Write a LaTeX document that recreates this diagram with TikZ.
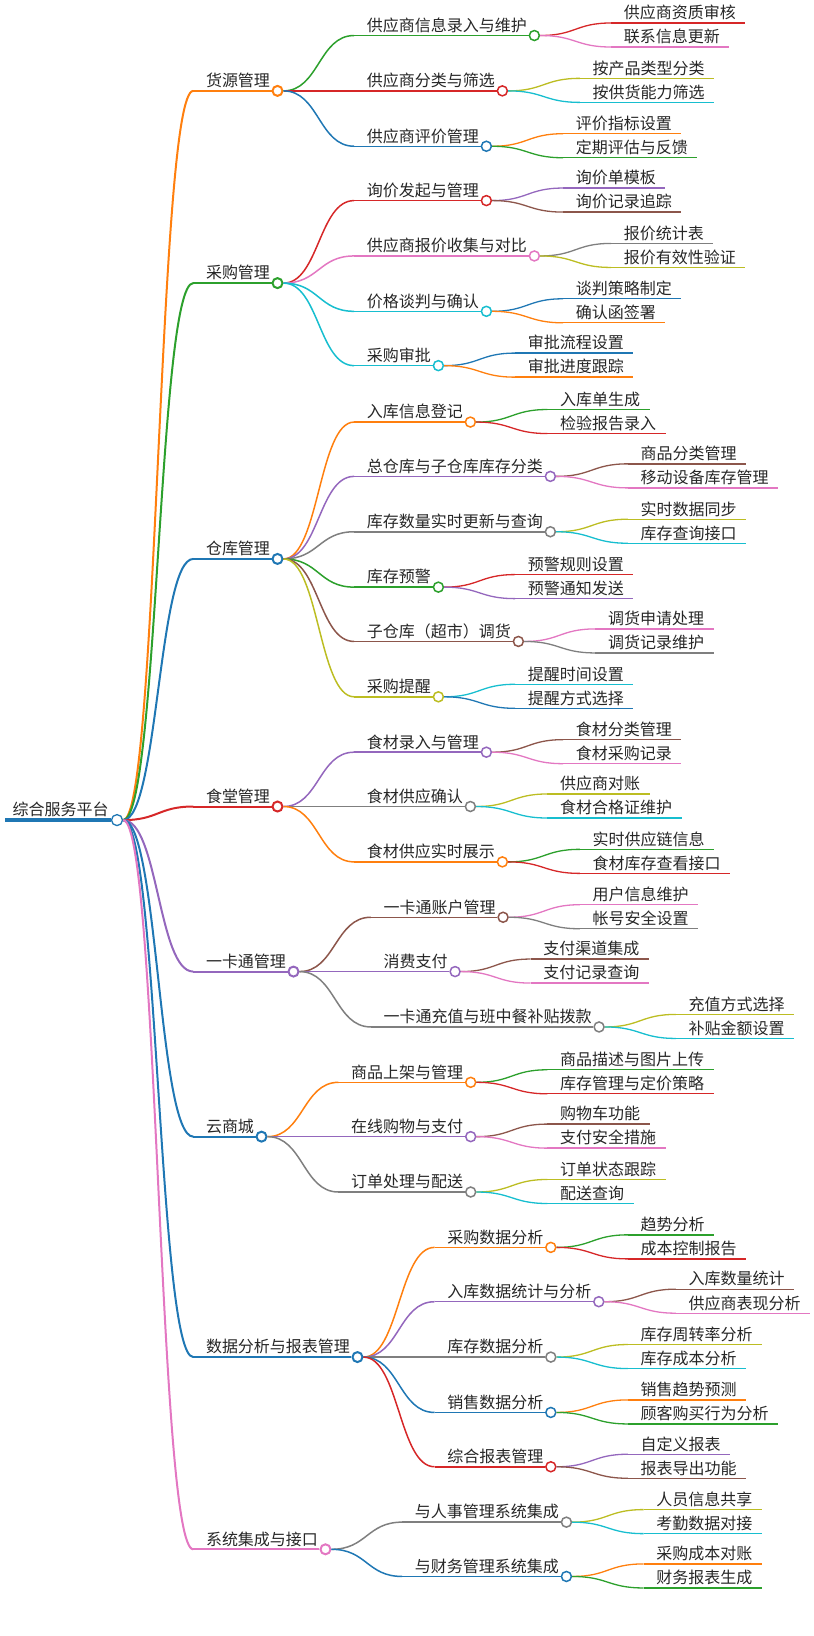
\documentclass[tikz,border=0pt]{standalone}
\usepackage{fontspec}
\setmainfont{Noto Sans CJK SC}
\usetikzlibrary{calc}
\definecolor{cb}{HTML}{1F77B4}\definecolor{co}{HTML}{FF7F0E}\definecolor{cg}{HTML}{2CA02C}
\definecolor{cr}{HTML}{D62728}\definecolor{cp}{HTML}{9467BD}\definecolor{cn}{HTML}{8C564B}
\definecolor{ck}{HTML}{E377C2}\definecolor{cy}{HTML}{7F7F7F}\definecolor{cl}{HTML}{BCBD22}
\definecolor{cc}{HTML}{17BECF}
\tikzset{txt/.style={inner sep=0pt,font=\fontsize{16}{18}\selectfont,text=black!85},
  dotc/.style={circle,fill=white,inner sep=0pt,minimum size=10pt,line width=1.3pt},
  la/.style={line width=2pt},lb/.style={line width=1.5pt},lc/.style={line width=1.3pt}}
\newcommand\MN[7]{%
\node[txt,anchor=base west] (#1t) at (#3,#4-4) {#5};
\coordinate (#1s) at (#3-12,#4);
\coordinate (#1m) at ($(#2.east)!0.5!(#1s)$);
\draw[#6] (#2.east) .. controls (#2.east -| #1m) and (#1s -| #1m) .. (#1s);
\path (#1t.east) ++(7,0) coordinate (#1x);
\ifnum#7=1
\node[dotc,draw=#6] (#1) at (#1x |- #1s) {};
\draw[#6] (#1s) -- (#1.west);
\else
\path (#1t.east) ++(9,0) coordinate (#1y);
\coordinate (#1) at (#1y |- #1s);
\draw[#6] (#1s) -- (#1);
\fi}
\begin{document}
\begin{tikzpicture}[x=1.045pt,y=-1.045pt]
\useasboundingbox (0,0) rectangle (779,1566);
\node[txt,anchor=base west] (roott) at (12,781) {综合服务平台};
\node[dotc,draw=cb,minimum size=11pt] (root) at (112,785) {};
\draw[cb,line width=3.5pt] (5,785) -- (root.west);
% level 1
\MN{A}{root}{197}{87}{货源管理}{co,la}{1}
\MN{B}{root}{197}{271}{采购管理}{cg,la}{1}
\MN{C}{root}{197}{535}{仓库管理}{cb,la}{1}
\MN{D}{root}{197}{772}{食堂管理}{cr,la}{1}
\MN{E}{root}{197}{930}{一卡通管理}{cp,la}{1}
\MN{F}{root}{197}{1088}{云商城}{cb,la}{1}
\MN{G}{root}{197}{1299}{数据分析与报表管理}{cb,la}{1}
\MN{H}{root}{197}{1483}{系统集成与接口}{ck,la}{1}
% A
\MN{A1}{A}{351}{34}{供应商信息录入与维护}{cg,lb}{1}
\MN{A2}{A}{351}{87}{供应商分类与筛选}{cr,lb}{1}
\MN{A3}{A}{351}{140}{供应商评价管理}{cb,lb}{1}
\MN{A11}{A1}{597}{22}{供应商资质审核}{cr,lc}{0}
\MN{A12}{A1}{597}{45}{联系信息更新}{ck,lc}{0}
\MN{A21}{A2}{567}{75}{按产品类型分类}{cl,lc}{0}
\MN{A22}{A2}{567}{98}{按供货能力筛选}{cc,lc}{0}
\MN{A31}{A3}{551}{128}{评价指标设置}{co,lc}{0}
\MN{A32}{A3}{551}{151}{定期评估与反馈}{cg,lc}{0}
% B
\MN{B1}{B}{351}{192}{询价发起与管理}{cr,lb}{1}
\MN{B2}{B}{351}{245}{供应商报价收集与对比}{ck,lb}{1}
\MN{B3}{B}{351}{298}{价格谈判与确认}{cc,lb}{1}
\MN{B4}{B}{351}{350}{采购审批}{cc,lb}{1}
\MN{B11}{B1}{551}{180}{询价单模板}{cp,lc}{0}
\MN{B12}{B1}{551}{203}{询价记录追踪}{cn,lc}{0}
\MN{B21}{B2}{597}{233}{报价统计表}{cy,lc}{0}
\MN{B22}{B2}{597}{256}{报价有效性验证}{cl,lc}{0}
\MN{B31}{B3}{551}{286}{谈判策略制定}{cb,lc}{0}
\MN{B32}{B3}{551}{309}{确认函签署}{co,lc}{0}
\MN{B41}{B4}{505}{338}{审批流程设置}{cb,lc}{0}
\MN{B42}{B4}{505}{361}{审批进度跟踪}{co,lc}{0}
% C
\MN{C1}{C}{351}{404}{入库信息登记}{co,lb}{1}
\MN{C2}{C}{351}{456}{总仓库与子仓库库存分类}{cp,lb}{1}
\MN{C3}{C}{351}{509}{库存数量实时更新与查询}{cy,lb}{1}
\MN{C4}{C}{351}{562}{库存预警}{cg,lb}{1}
\MN{C5}{C}{351}{614}{子仓库（超市）调货}{cn,lb}{1}
\MN{C6}{C}{351}{667}{采购提醒}{cl,lb}{1}
\MN{C11}{C1}{536}{392}{入库单生成}{cg,lc}{0}
\MN{C12}{C1}{536}{415}{检验报告录入}{cr,lc}{0}
\MN{C21}{C2}{613}{444}{商品分类管理}{cn,lc}{0}
\MN{C22}{C2}{613}{467}{移动设备库存管理}{ck,lc}{0}
\MN{C31}{C3}{613}{497}{实时数据同步}{cl,lc}{0}
\MN{C32}{C3}{613}{520}{库存查询接口}{cc,lc}{0}
\MN{C41}{C4}{505}{550}{预警规则设置}{cr,lc}{0}
\MN{C42}{C4}{505}{573}{预警通知发送}{cp,lc}{0}
\MN{C51}{C5}{582}{602}{调货申请处理}{ck,lc}{0}
\MN{C52}{C5}{582}{625}{调货记录维护}{cy,lc}{0}
\MN{C61}{C6}{505}{655}{提醒时间设置}{cc,lc}{0}
\MN{C62}{C6}{505}{678}{提醒方式选择}{cb,lc}{0}
% D
\MN{D1}{D}{351}{720}{食材录入与管理}{cp,lb}{1}
\MN{D2}{D}{351}{772}{食材供应确认}{cy,lb}{1}
\MN{D3}{D}{351}{825}{食材供应实时展示}{co,lb}{1}
\MN{D11}{D1}{551}{708}{食材分类管理}{cn,lc}{0}
\MN{D12}{D1}{551}{731}{食材采购记录}{ck,lc}{0}
\MN{D21}{D2}{536}{760}{供应商对账}{cl,lc}{0}
\MN{D22}{D2}{536}{783}{食材合格证维护}{cc,lc}{0}
\MN{D31}{D3}{567}{813}{实时供应链信息}{cg,lc}{0}
\MN{D32}{D3}{567}{836}{食材库存查看接口}{cr,lc}{0}
% E
\MN{E1}{E}{367}{878}{一卡通账户管理}{cn,lb}{1}
\MN{E2}{E}{367}{930}{消费支付}{cp,lb}{1}
\MN{E3}{E}{367}{983}{一卡通充值与班中餐补贴拨款}{cy,lb}{1}
\MN{E11}{E1}{567}{866}{用户信息维护}{ck,lc}{0}
\MN{E12}{E1}{567}{889}{帐号安全设置}{cy,lc}{0}
\MN{E21}{E2}{520}{918}{支付渠道集成}{cn,lc}{0}
\MN{E22}{E2}{520}{941}{支付记录查询}{ck,lc}{0}
\MN{E31}{E3}{659}{971}{充值方式选择}{cl,lc}{0}
\MN{E32}{E3}{659}{994}{补贴金额设置}{cc,lc}{0}
% F
\MN{F1}{F}{336}{1036}{商品上架与管理}{co,lb}{1}
\MN{F2}{F}{336}{1088}{在线购物与支付}{cp,lb}{1}
\MN{F3}{F}{336}{1141}{订单处理与配送}{cy,lb}{1}
\MN{F11}{F1}{536}{1024}{商品描述与图片上传}{cg,lc}{0}
\MN{F12}{F1}{536}{1047}{库存管理与定价策略}{cr,lc}{0}
\MN{F21}{F2}{536}{1076}{购物车功能}{cn,lc}{0}
\MN{F22}{F2}{536}{1099}{支付安全措施}{ck,lc}{0}
\MN{F31}{F3}{536}{1129}{订单状态跟踪}{cl,lc}{0}
\MN{F32}{F3}{536}{1152}{配送查询}{cc,lc}{0}
% G
\MN{G1}{G}{428}{1194}{采购数据分析}{co,lb}{1}
\MN{G2}{G}{428}{1246}{入库数据统计与分析}{cp,lb}{1}
\MN{G3}{G}{428}{1299}{库存数据分析}{cy,lb}{1}
\MN{G4}{G}{428}{1352}{销售数据分析}{cb,lb}{1}
\MN{G5}{G}{428}{1404}{综合报表管理}{cr,lb}{1}
\MN{G11}{G1}{613}{1182}{趋势分析}{cg,lc}{0}
\MN{G12}{G1}{613}{1205}{成本控制报告}{cr,lc}{0}
\MN{G21}{G2}{659}{1234}{入库数量统计}{cn,lc}{0}
\MN{G22}{G2}{659}{1257}{供应商表现分析}{ck,lc}{0}
\MN{G31}{G3}{613}{1287}{库存周转率分析}{cl,lc}{0}
\MN{G32}{G3}{613}{1310}{库存成本分析}{cc,lc}{0}
\MN{G41}{G4}{613}{1340}{销售趋势预测}{co,lc}{0}
\MN{G42}{G4}{613}{1363}{顾客购买行为分析}{cg,lc}{0}
\MN{G51}{G5}{613}{1392}{自定义报表}{cp,lc}{0}
\MN{G52}{G5}{613}{1415}{报表导出功能}{cn,lc}{0}
% H
\MN{H1}{H}{397}{1457}{与人事管理系统集成}{cy,lb}{1}
\MN{H2}{H}{397}{1509}{与财务管理系统集成}{cb,lb}{1}
\MN{H11}{H1}{628}{1445}{人员信息共享}{cl,lc}{0}
\MN{H12}{H1}{628}{1468}{考勤数据对接}{cc,lc}{0}
\MN{H21}{H2}{628}{1497}{采购成本对账}{co,lc}{0}
\MN{H22}{H2}{628}{1520}{财务报表生成}{cg,lc}{0}
\end{tikzpicture}
\end{document}
